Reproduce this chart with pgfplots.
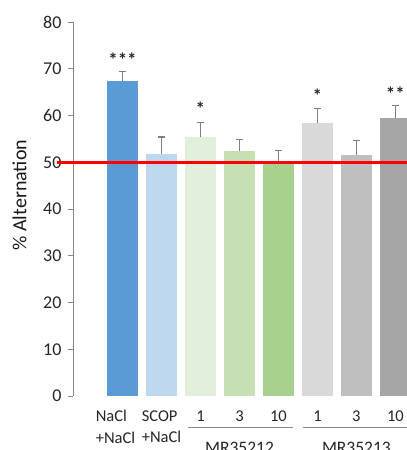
\documentclass[border=0pt]{standalone}
\usepackage{fontspec}
\setmainfont{Carlito}
\usepackage{pgfplots}
\pgfplotsset{compat=1.18}
\definecolor{c1}{HTML}{5B9BD5}
\definecolor{c2}{HTML}{BDD7EE}
\definecolor{c3}{HTML}{E2EFDA}
\definecolor{c4}{HTML}{C6E0B4}
\definecolor{c5}{HTML}{A9D18E}
\definecolor{c6}{HTML}{D9D9D9}
\definecolor{c7}{HTML}{BFBFBF}
\definecolor{c8}{HTML}{A5A5A5}
\definecolor{errgray}{HTML}{7F7F7F}
\definecolor{axgray}{HTML}{868686}
\begin{document}
\begin{tikzpicture}
\begin{axis}[
  scale only axis,
  width=338pt, height=374pt,
  xmin=-1.27, xmax=7.4, ymin=0, ymax=80,
  clip=false,
  axis lines*=left,
  x axis line style={draw=none},
  y axis line style={draw=axgray, line width=0.8pt},
  ytick={0,10,...,80},
  ytick style={draw=axgray, line width=0.8pt},
  tick align=outside,
  major tick length=5pt,
  xtick={0,...,7},
  xtick style={draw=none},
  xticklabels={{NaCl\\+NaCl\hspace*{14pt}},{SCOP\\+NaCl},1,3,10,1,3,10},
  xticklabel style={align=left, font=\fontsize{16.5}{21.5}\selectfont, yshift=-6pt},
  yticklabel style={font=\fontsize{18}{21}\selectfont, xshift=-3pt},
  tick label style={text=black!85},
  /pgf/number format/assume math mode=true,
  ylabel={\% Alternation},
  ylabel style={at={(axis description cs:-0.158,0.537)}, anchor=center, rotate=0, font=\fontsize{20}{24}\selectfont, text=black!90},
  ybar, bar shift=0pt, bar width=31pt,
  error bars/y dir=plus, error bars/y explicit,
  error bars/error bar style={color=errgray, line width=1.3pt},
  error bars/error mark options={rotate=90, mark size=3.5pt, color=errgray, line width=1.3pt},
]
\addplot[fill=c1, draw=none] coordinates {(0,67.4) +- (0,2.0)};
\addplot[fill=c2, draw=none] coordinates {(1,51.8) +- (0,3.6)};
\addplot[fill=c3, draw=none] coordinates {(2,55.4) +- (0,3.1)};
\addplot[fill=c4, draw=none] coordinates {(3,52.4) +- (0,2.5)};
\addplot[fill=c5, draw=none] coordinates {(4,49.8) +- (0,2.7)};
\addplot[fill=c6, draw=none] coordinates {(5,58.3) +- (0,3.2)};
\addplot[fill=c7, draw=none] coordinates {(6,51.5) +- (0,3.2)};
\addplot[fill=c8, draw=none] coordinates {(7,59.5) +- (0,2.6)};
\addplot[sharp plot, red, line width=3pt, forget plot] coordinates {(-1.68,50.05) (7.7,50.05)};
\node[anchor=base, text=black!85, font=\fontsize{19}{21}\selectfont\bfseries] at (axis cs:0,70.4) {***};
\node[anchor=base, text=black!85, font=\fontsize{19}{21}\selectfont\bfseries] at (axis cs:2,59.9) {*};
\node[anchor=base, text=black!85, font=\fontsize{19}{21}\selectfont\bfseries] at (axis cs:5,62.7) {*};
\node[anchor=base, text=black!85, font=\fontsize{19}{21}\selectfont\bfseries] at (axis cs:7,63.3) {**};
\draw[axgray, line width=0.8pt] ([yshift=-31pt]axis cs:1.68,0) -- ([yshift=-31pt]axis cs:4.37,0);
\draw[axgray, line width=0.8pt] ([yshift=-31pt]axis cs:4.63,0) -- ([yshift=-31pt]axis cs:7.6,0);
\node[anchor=base, text=black!85, font=\fontsize{17.5}{21}\selectfont] at ([yshift=-57pt]axis cs:3,0) {MR35212};
\node[anchor=base, text=black!85, font=\fontsize{17.5}{21}\selectfont] at ([yshift=-57pt]axis cs:6,0) {MR35213};
\coordinate (o) at (rel axis cs:0,0);
\end{axis}
\pgfresetboundingbox
\path (o) ++(-73pt,-54pt) rectangle ++(407pt,450pt);
\end{tikzpicture}
\end{document}
